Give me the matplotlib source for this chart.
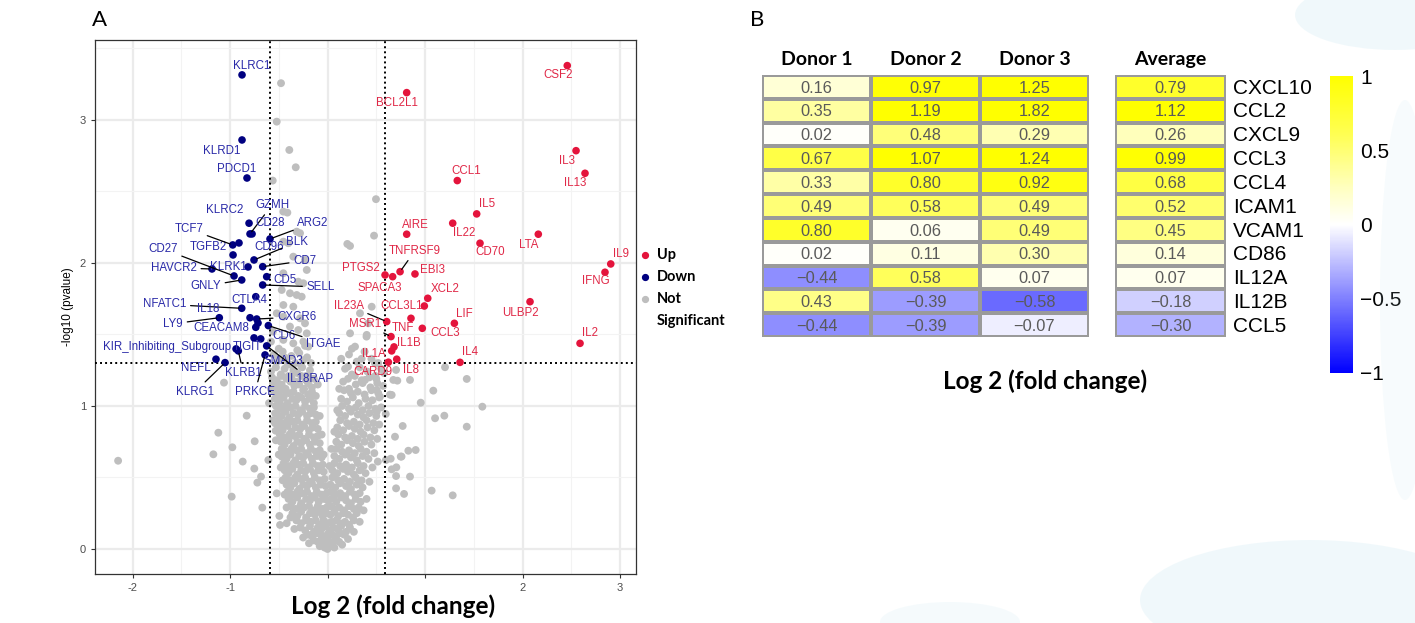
import matplotlib
matplotlib.use('Agg')
import matplotlib.pyplot as plt
import numpy as np
from matplotlib.colors import LinearSegmentedColormap, Normalize
from matplotlib.cm import ScalarMappable
from matplotlib.lines import Line2D
from matplotlib.patches import Ellipse

# ---------------- DATA: panel A (volcano) ----------------
down_genes = ["KLRC1", "KLRD1", "PDCD1", "KLRC2", "GZMH", "CD28", "ARG2", "TGFB2", "TCF7", "CD96",
              "BLK", "KLRK1", "CD7", "HAVCR2", "CD27", "GNLY", "CD5", "SELL", "CTLA4", "NFATC1",
              "IL18", "LY9", "CXCR6", "CD6", "CEACAM8", "ITGAE", "TIGIT", "SMAD3", "IL18RAP", "KLRB1",
              "KIR_Inhibiting_Subgroup", "PRKCE", "NEFL", "KLRG1"]
down_fc = [-0.877, -0.877, -0.826, -0.805, -0.795, -0.774, -0.590, -0.908, -0.972, -0.969,
           -0.754, -0.815, -0.665, -1.185, -0.959, -0.880, -0.624, -0.665, -0.736, -0.880,
           -0.795, -1.110, -0.726, -0.713, -0.736, -0.607, -0.754, -0.685, -0.624, -0.915,
           -0.938, -0.641, -1.144, -1.051]
down_p = [3.315, 2.860, 2.594, 2.278, 2.203, 2.203, 2.168, 2.140, 2.126, 2.056,
          2.021, 1.972, 1.974, 1.958, 1.909, 1.881, 1.904, 1.846, 1.764, 1.683,
          1.617, 1.617, 1.608, 1.580, 1.550, 1.562, 1.476, 1.469, 1.420, 1.385,
          1.399, 1.357, 1.327, 1.303]

up_genes = ["CSF2", "BCL2L1", "IL3", "IL13", "CCL1", "IL5", "IL22", "AIRE", "LTA", "CD70",
            "TNFRSF9", "EBI3", "PTGS2", "SPACA3", "IL9", "IFNG", "XCL2", "CCL3L1", "ULBP2", "IL23A",
            "LIF", "TNF", "CCL3", "MSR1", "IL1B", "IL1A", "CARD9", "IL8", "IL4", "IL2"]
up_fc = [2.459, 0.812, 2.549, 2.641, 1.331, 1.530, 1.284, 0.812, 2.162, 1.564,
         0.744, 0.897, 0.590, 0.668, 2.905, 2.846, 1.028, 0.993, 2.077, 0.607,
         1.301, 0.856, 0.972, 0.651, 0.682, 0.658, 0.624, 0.710, 1.359, 2.590]
up_p = [3.380, 3.191, 2.785, 2.627, 2.576, 2.343, 2.278, 2.201, 2.201, 2.138,
        1.939, 1.923, 1.916, 1.904, 1.993, 1.935, 1.753, 1.699, 1.729, 1.590,
        1.578, 1.613, 1.543, 1.485, 1.413, 1.385, 1.306, 1.327, 1.305, 1.438]

grey_points = [
    (-2.148, 0.617), (-1.12, 0.813), (-1.171, 0.662), (-0.976, 0.711), (-0.983, 0.366), (-0.870, 0.611),
    (-0.829, 0.932), (-0.747, 0.753), (-0.751, 0.562), (-0.720, 0.464), (-0.682, 0.506), (-0.669, 0.289),
    (-1.062, 1.163), (-0.607, 0.622), (-0.538, 0.879), (-0.532, 0.827), (-0.538, 0.949), (-0.470, 0.646),
    (-0.521, 0.389), (-0.494, 0.231), (-0.487, 0.168), (-0.419, 0.180),
    (-0.477, 3.257), (-0.521, 2.988), (-0.392, 2.790), (-0.326, 2.669), (-0.562, 2.576), (0.497, 2.446),
    (0.477, 2.191), (0.203, 2.133), (0.231, 2.119), (-0.453, 2.359), (-0.412, 2.352), (-0.316, 2.219),
    (-0.282, 2.208), (-0.453, 2.149), (-0.402, 2.138), (-0.351, 2.044), (-0.231, 2.021), (-0.213, 1.951),
    (-0.453, 1.928), (-0.300, 1.869), (-0.248, 1.858), (-0.470, 1.811), (-0.385, 1.788), (-0.316, 1.776),
    (-0.265, 1.764), (-0.453, 1.706), (-0.351, 1.694), (-0.521, 1.648), (-0.453, 1.624), (-0.282, 1.613),
    (-0.231, 1.578), (-0.385, 1.555), (-0.300, 1.531), (-0.213, 1.508), (-0.453, 1.462), (-0.351, 1.438),
    (-0.248, 1.450), (-0.197, 1.415), (0.333, 1.648), (0.418, 1.578), (0.231, 1.508), (0.402, 1.497),
    (0.282, 1.415), (0.453, 1.694), (0.400, 1.485), (0.210, 1.275), (0.487, 1.298), (0.385, 1.182),
    (0.504, 1.112), (0.538, 1.065), (-0.56, 1.52), (-0.50, 1.40), (-0.58, 1.45),
    (1.205, 1.271), (1.428, 1.189), (1.085, 1.107), (0.956, 1.023), (1.588, 0.995), (1.103, 0.914),
    (1.198, 0.932), (1.428, 0.855), (0.771, 0.860), (0.692, 0.785), (0.829, 0.687), (0.904, 0.692),
    (0.648, 0.631), (0.751, 0.646), (0.658, 0.557), (0.703, 0.510), (0.846, 0.506), (0.703, 0.424),
    (0.785, 0.385), (1.068, 0.408), (1.284, 0.375), (0.641, 1.079), (0.658, 1.077), (0.597, 0.944),
    (0.675, 1.182), (0.716, 1.177), (0.846, 1.182), (0.703, 1.252), (0.505, 0.960), (0.599, 0.622),
    (0.516, 0.611), (0.706, 0.571), (0.759, 0.646),
    (-0.55, 1.36), (-0.50, 1.33), (-0.46, 1.38), (-0.42, 1.31), (-0.37, 1.35), (-0.33, 1.30), (-0.29, 1.37),
    (-0.25, 1.32), (-0.21, 1.34), (0.22, 1.36), (0.30, 1.31), (0.38, 1.38), (0.45, 1.33), (0.52, 1.30),
    (-0.58, 1.24), (-0.53, 1.27), (-0.48, 1.22), (-0.44, 1.26), (-0.40, 1.21), (-0.35, 1.25), (-0.31, 1.23),
    (-0.26, 1.27), (-0.22, 1.21), (-0.18, 1.25), (0.18, 1.26), (0.25, 1.22), (0.33, 1.27), (0.41, 1.24),
    (0.49, 1.21), (0.55, 1.26),
    (-0.57, 1.20), (-0.52, 1.18), (-0.47, 1.21), (-0.42, 1.19), (-0.37, 1.20), (-0.32, 1.17), (-0.27, 1.21),
    (-0.22, 1.18), (-0.19, 1.20), (0.21, 1.19), (0.28, 1.21), (0.35, 1.18), (0.43, 1.20), (0.50, 1.19),
    (-0.56, 1.16), (-0.51, 1.13), (-0.47, 1.15), (-0.43, 1.12), (-0.38, 1.17), (-0.34, 1.14), (-0.29, 1.15),
    (-0.24, 1.12), (-0.20, 1.16), (-0.16, 1.13), (0.16, 1.17), (0.22, 1.12), (0.29, 1.15), (0.36, 1.16),
    (0.44, 1.13), (0.51, 1.16),
    (-0.55, 1.10), (-0.50, 1.08), (-0.45, 1.11), (-0.40, 1.09), (-0.35, 1.10), (-0.30, 1.07), (-0.25, 1.11),
    (-0.20, 1.08), (-0.16, 1.10), (0.17, 1.11), (0.24, 1.09), (0.31, 1.10), (0.38, 1.08), (0.45, 1.11),
    (0.52, 1.09),
    (-0.54, 1.05), (-0.49, 1.03), (-0.45, 1.06), (-0.41, 1.02), (-0.36, 1.05), (-0.32, 1.04), (-0.27, 1.06),
    (-0.23, 1.03), (-0.18, 1.05), (-0.14, 1.02), (0.14, 1.05), (0.20, 1.03), (0.26, 1.06), (0.32, 1.02),
    (0.39, 1.05), (0.46, 1.04), (0.53, 1.06),
    (-0.53, 1.00), (-0.48, 0.98), (-0.43, 1.00), (-0.38, 0.99), (-0.33, 1.00), (-0.28, 0.97), (-0.23, 1.00),
    (-0.18, 0.98), (-0.14, 0.99), (0.15, 1.00), (0.22, 0.98), (0.29, 0.99), (0.36, 0.97), (0.42, 1.00),
    (0.49, 0.98),
    (-0.52, 0.95), (-0.47, 0.93), (-0.43, 0.96), (-0.39, 0.92), (-0.35, 0.95), (-0.30, 0.94), (-0.26, 0.96),
    (-0.21, 0.93), (-0.17, 0.95), (-0.12, 0.94), (0.12, 0.95), (0.18, 0.93), (0.24, 0.96), (0.31, 0.94),
    (0.37, 0.92), (0.43, 0.95), (0.50, 0.93),
    (-0.51, 0.90), (-0.46, 0.88), (-0.41, 0.90), (-0.36, 0.89), (-0.31, 0.90), (-0.26, 0.87), (-0.21, 0.90),
    (-0.16, 0.88), (-0.12, 0.89), (0.13, 0.90), (0.20, 0.88), (0.27, 0.89), (0.33, 0.87), (0.40, 0.90),
    (0.47, 0.88),
    (-0.50, 0.85), (-0.46, 0.83), (-0.41, 0.86), (-0.37, 0.82), (-0.33, 0.85), (-0.28, 0.84), (-0.24, 0.86),
    (-0.19, 0.83), (-0.15, 0.85), (-0.10, 0.84), (0.10, 0.85), (0.16, 0.83), (0.22, 0.86), (0.28, 0.84),
    (0.34, 0.82), (0.41, 0.85), (0.48, 0.83),
    (-0.49, 0.80), (-0.44, 0.78), (-0.39, 0.80), (-0.34, 0.79), (-0.29, 0.80), (-0.24, 0.77), (-0.19, 0.80),
    (-0.14, 0.78), (-0.10, 0.79), (0.11, 0.80), (0.18, 0.78), (0.25, 0.79), (0.31, 0.77), (0.37, 0.80),
    (0.44, 0.78),
    (-0.48, 0.75), (-0.44, 0.73), (-0.40, 0.76), (-0.35, 0.72), (-0.31, 0.75), (-0.27, 0.74), (-0.22, 0.76),
    (-0.18, 0.73), (-0.13, 0.75), (-0.08, 0.74), (0.09, 0.75), (0.14, 0.73), (0.20, 0.76), (0.26, 0.74),
    (0.32, 0.72), (0.38, 0.75), (0.45, 0.73),
    (-0.47, 0.70), (-0.42, 0.68), (-0.37, 0.70), (-0.32, 0.69), (-0.27, 0.70), (-0.22, 0.67), (-0.17, 0.70),
    (-0.12, 0.68), (-0.08, 0.69), (0.09, 0.70), (0.15, 0.68), (0.22, 0.69), (0.28, 0.67), (0.34, 0.70),
    (0.40, 0.68),
    (-0.46, 0.65), (-0.42, 0.63), (-0.38, 0.66), (-0.33, 0.62), (-0.29, 0.65), (-0.25, 0.64), (-0.20, 0.66),
    (-0.16, 0.63), (-0.11, 0.65), (-0.06, 0.64), (0.07, 0.65), (0.12, 0.63), (0.18, 0.66), (0.24, 0.64),
    (0.30, 0.62), (0.36, 0.65), (0.42, 0.63),
    (-0.45, 0.60), (-0.40, 0.58), (-0.35, 0.60), (-0.30, 0.59), (-0.25, 0.60), (-0.20, 0.57), (-0.15, 0.60),
    (-0.10, 0.58), (-0.05, 0.59), (0.07, 0.60), (0.13, 0.58), (0.19, 0.59), (0.25, 0.57), (0.31, 0.60),
    (0.37, 0.58),
    (-0.44, 0.55), (-0.40, 0.53), (-0.36, 0.56), (-0.31, 0.52), (-0.27, 0.55), (-0.23, 0.54), (-0.18, 0.56),
    (-0.14, 0.53), (-0.09, 0.55), (-0.04, 0.54), (0.05, 0.55), (0.10, 0.53), (0.16, 0.56), (0.21, 0.54),
    (0.27, 0.52), (0.33, 0.55), (0.39, 0.53),
    (-0.43, 0.50), (-0.38, 0.48), (-0.33, 0.50), (-0.28, 0.49), (-0.23, 0.50), (-0.18, 0.47), (-0.13, 0.50),
    (-0.08, 0.48), (-0.03, 0.49), (0.05, 0.50), (0.11, 0.48), (0.17, 0.49), (0.23, 0.47), (0.29, 0.50),
    (0.35, 0.48),
    (-0.42, 0.45), (-0.38, 0.43), (-0.34, 0.46), (-0.29, 0.42), (-0.25, 0.45), (-0.21, 0.44), (-0.16, 0.46),
    (-0.12, 0.43), (-0.07, 0.45), (-0.02, 0.44), (0.03, 0.45), (0.08, 0.43), (0.13, 0.46), (0.19, 0.44),
    (0.24, 0.42), (0.30, 0.45), (0.36, 0.43),
    (-0.41, 0.40), (-0.36, 0.38), (-0.31, 0.40), (-0.26, 0.39), (-0.21, 0.40), (-0.16, 0.37), (-0.11, 0.40),
    (-0.06, 0.38), (-0.01, 0.39), (0.03, 0.40), (0.08, 0.38), (0.13, 0.39), (0.18, 0.37), (0.23, 0.40),
    (0.28, 0.38), (0.33, 0.39),
    (-0.40, 0.35), (-0.36, 0.33), (-0.31, 0.36), (-0.27, 0.32), (-0.22, 0.35), (-0.18, 0.34), (-0.13, 0.36),
    (-0.09, 0.33), (-0.04, 0.35), (0.00, 0.34), (0.04, 0.35), (0.09, 0.33), (0.14, 0.36), (0.19, 0.34),
    (0.24, 0.32), (0.29, 0.35), (0.34, 0.33),
    (-0.38, 0.30), (-0.33, 0.28), (-0.28, 0.30), (-0.24, 0.29), (-0.19, 0.30), (-0.14, 0.27), (-0.10, 0.30),
    (-0.05, 0.28), (-0.01, 0.29), (0.03, 0.30), (0.07, 0.28), (0.12, 0.29), (0.17, 0.27), (0.22, 0.30),
    (0.27, 0.28), (0.32, 0.29),
    (-0.36, 0.25), (-0.31, 0.23), (-0.27, 0.26), (-0.22, 0.22), (-0.18, 0.25), (-0.13, 0.24), (-0.09, 0.26),
    (-0.05, 0.23), (-0.01, 0.25), (0.03, 0.24), (0.07, 0.26), (0.11, 0.23), (0.16, 0.25), (0.21, 0.24),
    (0.26, 0.22), (0.30, 0.25),
    (-0.32, 0.20), (-0.27, 0.18), (-0.22, 0.20), (-0.17, 0.19), (-0.12, 0.20), (-0.08, 0.17), (-0.04, 0.20),
    (0.00, 0.18), (0.04, 0.19), (0.09, 0.20), (0.13, 0.18), (0.18, 0.19), (0.22, 0.17), (0.27, 0.20),
    (-0.28, 0.15), (-0.23, 0.13), (-0.18, 0.16), (-0.14, 0.12), (-0.10, 0.15), (-0.06, 0.14), (-0.02, 0.16),
    (0.02, 0.13), (0.06, 0.15), (0.10, 0.14), (0.14, 0.16), (0.19, 0.12), (0.23, 0.15),
    (-0.20, 0.10), (-0.16, 0.09), (-0.11, 0.11), (-0.07, 0.10), (-0.03, 0.09), (0.01, 0.11), (0.05, 0.10),
    (0.09, 0.09), (0.13, 0.11), (0.17, 0.10),
    (-0.14, 0.06), (-0.10, 0.05), (-0.06, 0.07), (-0.03, 0.04), (0.01, 0.06), (0.04, 0.03), (0.08, 0.06),
    (0.12, 0.05), (-0.03, 0.01), (0.00, 0.00), (0.03, 0.02),
    (-0.52, 1.31), (-0.44, 1.34), (-0.39, 1.29), (-0.31, 1.39), (-0.27, 1.28), (-0.23, 1.42), (-0.17, 1.30),
    (-0.14, 1.19), (-0.12, 1.07), (-0.58, 1.12), (-0.60, 1.02), (-0.56, 0.90), (-0.53, 0.76), (-0.50, 0.66),
    (-0.48, 0.57), (-0.46, 0.48), (-0.44, 0.38), (-0.42, 0.29), (-0.38, 0.22), (-0.34, 0.14), (-0.25, 0.08),
    (-0.19, 0.04), (-0.08, 0.02), (0.07, 0.01), (0.15, 0.03), (0.21, 0.07), (0.27, 0.12), (0.33, 0.19),
    (0.37, 0.27), (0.40, 0.35), (0.43, 0.47), (0.46, 0.57), (0.48, 0.67), (0.51, 0.77), (0.53, 0.87),
    (0.55, 0.99), (0.57, 1.14), (0.58, 1.23), (0.12, 1.12), (0.10, 0.97), (0.07, 0.82), (0.04, 0.70),
    (0.02, 0.58), (-0.04, 0.66), (-0.06, 0.80), (-0.08, 0.93), (-0.10, 1.15), (0.25, 1.40), (0.14, 1.33),
    (0.35, 1.33),
]
grey_fc = [p[0] for p in grey_points]
grey_p = [p[1] for p in grey_points]

fc_cut = 0.585
p_cut = 1.301
x_ticks = [-2, -1, 0, 1, 2, 3]
x_ticklabels = ["-2", "-1", "", "", "2", "3"]
y_ticks = [0, 1, 2, 3]

# ---------------- DATA: panel B (heatmap) ----------------
genes_b = ["CXCL10", "CCL2", "CXCL9", "CCL3", "CCL4", "ICAM1", "VCAM1", "CD86", "IL12A", "IL12B", "CCL5"]
donor1 = [0.16, 0.35, 0.02, 0.67, 0.33, 0.49, 0.80, 0.02, -0.44, 0.43, -0.44]
donor2 = [0.97, 1.19, 0.48, 1.07, 0.80, 0.58, 0.06, 0.11, 0.58, -0.39, -0.39]
donor3 = [1.25, 1.82, 0.29, 1.24, 0.92, 0.49, 0.49, 0.30, 0.07, -0.58, -0.07]
average = [0.79, 1.12, 0.26, 0.99, 0.68, 0.52, 0.45, 0.14, 0.07, -0.18, -0.30]
donor_cols = ["Donor 1", "Donor 2", "Donor 3"]
cbar_ticks = [-1, -0.5, 0, 0.5, 1]
cbar_labels = ["\u22121", "\u22120.5", "0", "0.5", "1"]

# ---------------- layout helpers ----------------
W, H = 1415, 623
fig = plt.figure(figsize=(W / 100, H / 100), dpi=100)
fig.patch.set_facecolor('white')

def fx(px):
    return px / W

def fy(py):
    return 1 - py / H

# faint decorative background shapes
for (cx, cy, w, h, a) in [(1395, 15, 200, 70, 0.22), (1310, 600, 340, 120, 0.22), (950, 622, 140, 40, 0.15),
                          (1405, 300, 50, 400, 0.12)]:
    e = Ellipse((fx(cx), fy(cy)), w / W, h / H, transform=fig.transFigure, facecolor='#BFE3F0',
                edgecolor='none', alpha=a, zorder=0)
    fig.patches.append(e)

LAB = 'Liberation Sans'
HEAD = 'Lato'
RED = '#E4143C'
NAVY = '#000080'
RED_T = '#E02847'
NAVY_T = '#2A2AA8'
GREY = '#BEBEBE'

# ---------------- panel A ----------------
ax = fig.add_axes([fx(95), fy(574), (636 - 95) / W, (574 - 40) / H])
ax.set_xlim(-2.385, 3.164)
ax.set_ylim(-0.175, 3.559)
ax.set_xticks(x_ticks)
ax.set_xticklabels(x_ticklabels)
ax.set_yticks(y_ticks)
ax.set_xticks([-1.5, -0.5, 0.5, 1.5, 2.5], minor=True)
ax.set_yticks([0.5, 1.5, 2.5, 3.5], minor=True)
ax.grid(which='major', color='#EBEBEB', lw=1.6)
ax.grid(which='minor', color='#F3F3F3', lw=0.8)
ax.set_axisbelow(True)
ax.tick_params(which='minor', length=0)
ax.tick_params(which='major', length=3, color='#333333', labelsize=8, labelcolor='#4D4D4D', width=0.8)
for lab in ax.get_xticklabels() + ax.get_yticklabels():
    lab.set_fontfamily(LAB)
for s in ax.spines.values():
    s.set_color('#333333')
    s.set_linewidth(0.9)

ax.scatter(grey_fc, grey_p, s=32, color=GREY, edgecolors='none', zorder=2)
ax.axvline(-fc_cut, color='black', lw=1.4, ls=(0, (1, 1.6)), zorder=3)
ax.axvline(fc_cut, color='black', lw=1.4, ls=(0, (1, 1.6)), zorder=3)
ax.axhline(p_cut, color='black', lw=1.4, ls=(0, (1, 1.6)), zorder=3)
ax.scatter(up_fc, up_p, s=30, color=RED, edgecolors='none', zorder=4)
ax.scatter(down_fc, down_p, s=30, color=NAVY, edgecolors='none', zorder=4)

ax.set_ylabel('-log10 (pvalue)', fontsize=8.5, family=LAB, labelpad=4)

# label offsets in pixels (dx, dy) and whether a leader line is drawn
down_offsets = {
    "KLRC1": (10, 9, 0), "KLRD1": (-20, -11, 0), "PDCD1": (-10, 9, 0), "KLRC2": (-24, 13, 0),
    "GZMH": (22, 29, 1), "CD28": (18, 11, 0), "ARG2": (43, 16, 1), "TGFB2": (-31, -4, 0),
    "TCF7": (-44, 16, 1), "CD96": (36, 8, 0), "BLK": (43, 18, 1), "KLRK1": (-20, 0, 0),
    "CD7": (42, 6, 1), "HAVCR2": (-38, 1, 1), "CD27": (-71, 27, 1), "GNLY": (-36, -6, 1),
    "CD5": (18, -3, 0), "SELL": (58, -2, 1), "CTLA4": (-6, -3, 0), "NFATC1": (-77, 4, 1),
    "IL18": (-42, 9, 0), "LY9": (-46, -6, 1), "CXCR6": (40, 2, 1), "CD6": (26, -13, 0),
    "CEACAM8": (-34, -1, 0), "ITGAE": (55, -18, 1), "TIGIT": (-7, -9, 0), "SMAD3": (23, -22, 0),
    "IL18RAP": (43, -33, 1), "KLRB1": (5, -22, 1), "KIR_Inhibiting_Subgroup": (-69, 2, 0),
    "PRKCE": (-10, -37, 1), "NEFL": (-20, -9, 0), "KLRG1": (-30, -29, 1),
}
up_offsets = {
    "CSF2": (-9, -9, 0), "BCL2L1": (-10, -10, 0), "IL3": (-9, -10, 0), "IL13": (-10, -10, 0),
    "CCL1": (9, 10, 0), "IL5": (10, 10, 0), "IL22": (11, -10, 0), "AIRE": (9, 9, 0),
    "LTA": (-10, -11, 0), "CD70": (10, -9, 0), "TNFRSF9": (15, 21, 1), "EBI3": (18, 4, 0),
    "PTGS2": (-24, 7, 0), "SPACA3": (-13, -11, 0), "IL9": (10, 10, 0), "IFNG": (-9, -9, 0),
    "XCL2": (17, 9, 0), "CCL3L1": (-23, 0, 0), "ULBP2": (-10, -11, 0), "IL23A": (-38, 16, 1),
    "LIF": (10, 9, 0), "TNF": (-8, -10, 0), "CCL3": (23, -5, 0), "MSR1": (-26, 13, 1),
    "IL1B": (15, 4, 0), "IL1A": (-18, -3, 0), "CARD9": (-15, -10, 0), "IL8": (14, -11, 0),
    "IL4": (10, 10, 0), "IL2": (10, 10, 0),
}

def put_labels(names, xs, ys, offs, col):
    for n, x, y in zip(names, xs, ys):
        dx, dy, line = offs[n]
        kw = dict(xy=(x, y), xytext=(dx, dy), textcoords='offset pixels', ha='center', va='center',
                  fontsize=8.3, family=LAB, color=col, zorder=5)
        if line:
            kw['arrowprops'] = dict(arrowstyle='-', color='black', lw=0.9, shrinkA=1, shrinkB=2)
        ax.annotate(n, **kw)

put_labels(down_genes, down_fc, down_p, down_offsets, NAVY_T)
put_labels(up_genes, up_fc, up_p, up_offsets, RED_T)

fig.text(fx(393), fy(606), 'Log 2 (fold change)', ha='center', va='center', fontsize=17.5,
         family=HEAD, weight='bold')
fig.text(fx(100), fy(20), 'A', ha='center', va='center', fontsize=16, family=HEAD)
fig.text(fx(757), fy(20), 'B', ha='center', va='center', fontsize=16, family=HEAD)

# legend
for py, col, txt in [(255, RED, 'Up'), (277, NAVY, 'Down'), (299, GREY, 'Not')]:
    fig.add_artist(Line2D([fx(645)], [fy(py)], marker='o', markersize=4.2, color=col, lw=0,
                          transform=fig.transFigure))
    fig.text(fx(657), fy(py), txt, ha='left', va='center', fontsize=10.5, family=HEAD, weight='bold')
fig.text(fx(657), fy(321), 'Significant', ha='left', va='center', fontsize=10.5, family=HEAD, weight='bold')

# ---------------- panel B ----------------
cmap = LinearSegmentedColormap.from_list('bwy', [(0.0, '#0000FF'), (0.5, '#FFFFFF'), (0.62, '#FFFFC2'),
                                                  (0.8, '#FFFF55'), (1.0, '#FFFF00')])
norm = Normalize(vmin=-1, vmax=1)

def fmt(v):
    return f"{v:.2f}".replace('-', '\u2212')

def heat(axh, cols):
    mat = np.array(cols).T
    nr, nc = mat.shape
    axh.pcolormesh(np.arange(nc + 1), np.arange(nr + 1), mat, cmap=cmap, norm=norm,
                   edgecolors='#9A9A9A', linewidth=1.5)
    axh.set_xlim(0, nc)
    axh.set_ylim(nr, 0)
    axh.set_xticks([])
    axh.set_yticks([])
    for s in axh.spines.values():
        s.set_visible(False)
    for i in range(nr):
        for j in range(nc):
            axh.text(j + 0.5, i + 0.55, fmt(mat[i, j]), ha='center', va='center', fontsize=11.8,
                     family=LAB, color='#5A5A5A')

axd = fig.add_axes([fx(762), fy(337), (1089 - 762) / W, (337 - 75) / H])
heat(axd, [donor1, donor2, donor3])
for j, name in enumerate(donor_cols):
    axd.text(j + 0.5, -0.3, name, ha='center', va='bottom', fontsize=14, family=HEAD, weight='bold')

axa = fig.add_axes([fx(1115), fy(337), (1226 - 1115) / W, (337 - 75) / H])
heat(axa, [average])
axa.text(0.5, -0.3, 'Average', ha='center', va='bottom', fontsize=14, family=HEAD, weight='bold')
for i, g in enumerate(genes_b):
    axa.text(1.06, i + 0.55, g, ha='left', va='center', fontsize=15, family=LAB, clip_on=False)

cax = fig.add_axes([fx(1330), fy(373), (1353 - 1330) / W, (373 - 76) / H])
cb = fig.colorbar(ScalarMappable(norm=norm, cmap=cmap), cax=cax, ticks=cbar_ticks)
cb.outline.set_visible(False)
cb.ax.set_yticklabels(cbar_labels)
cb.ax.tick_params(length=0, labelsize=15, pad=5)
for lab in cb.ax.get_yticklabels():
    lab.set_fontfamily(LAB)

fig.text(fx(1045), fy(381), 'Log 2 (fold change)', ha='center', va='center', fontsize=17.5,
         family=HEAD, weight='bold')

fig.savefig('out.png', dpi=100, facecolor='white')
